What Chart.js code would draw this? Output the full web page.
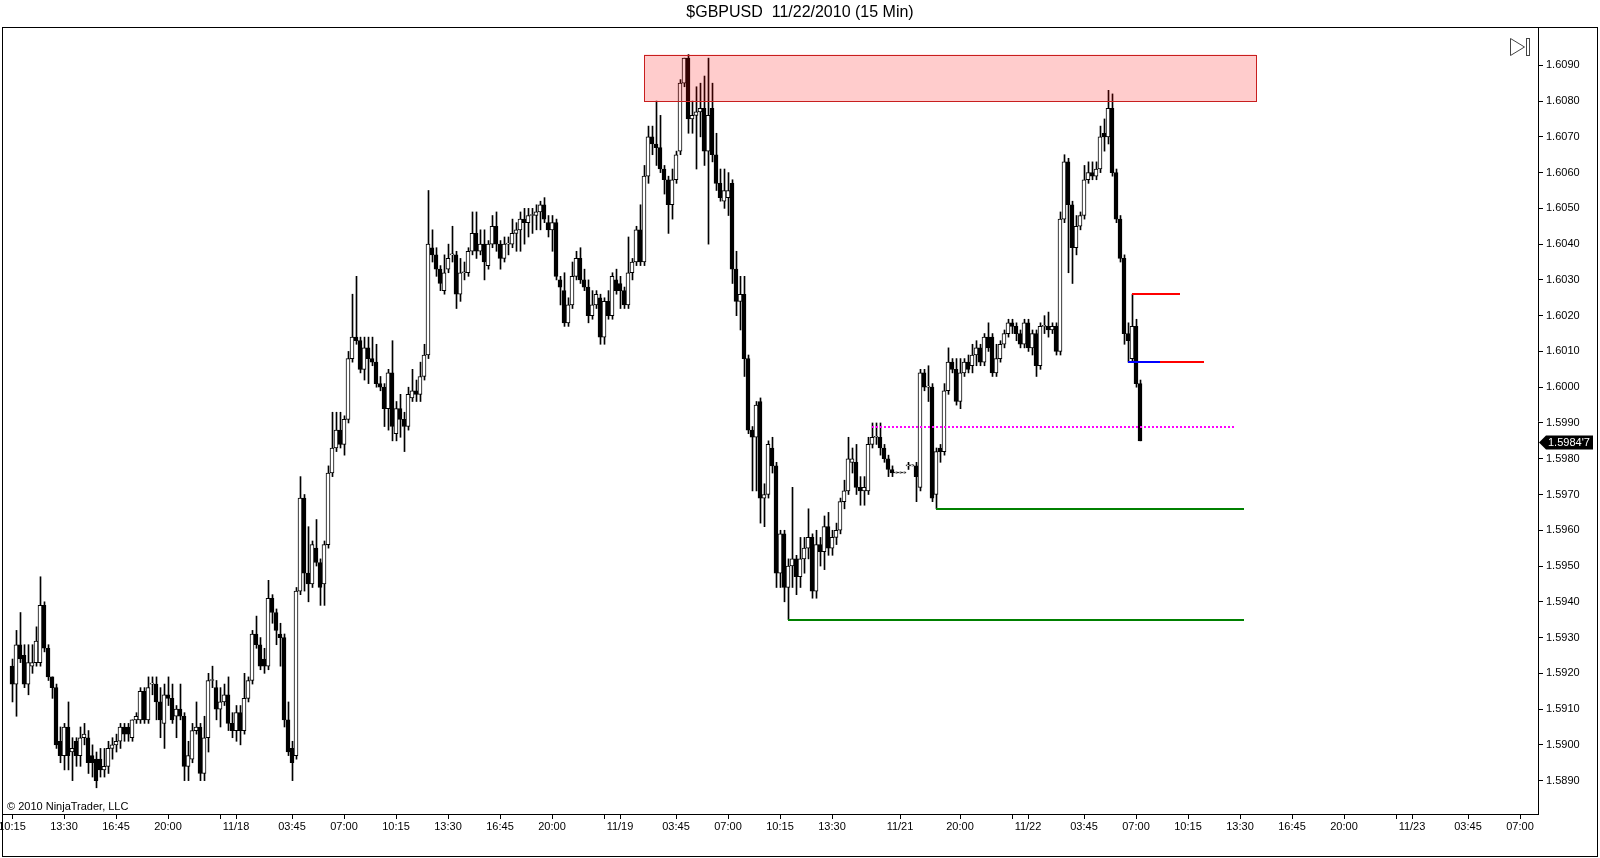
<!DOCTYPE html>
<html>
<head>
<meta charset="utf-8">
<title>$GBPUSD 11/22/2010 (15 Min)</title>
<script src="https://cdn.jsdelivr.net/npm/chart.js@4.4.0/dist/chart.umd.min.js"></script>
<style>
  html, body { margin: 0; padding: 0; background: #fff; }
  #myChartContainer { width: 1600px; height: 858px; }
</style>
</head>
<body>
<div id="myChartContainer"><canvas id="myChart" width="1600" height="858"></canvas></div>
<script>
// 15 min bars, index 0 = 11/17 10:15
var opens = [
1.5922,1.5917,1.5928,1.5925,1.5917,1.5922,1.5923,1.5923,1.5939,1.5927,
1.5919,1.5916,1.5901,1.5897,1.5905,1.5898,1.5901,1.5897,1.5902,1.5902,
1.5897,1.5896,1.5896,1.5893,1.5894,1.5899,1.5900,1.5901,1.5905,1.5905,
1.5902,1.5907,1.5907,1.5915,1.5907,1.5917,1.5917,1.5912,1.5906,1.5914,
1.5913,1.5908,1.5910,1.5908,1.5894,1.5896,1.5904,1.5905,1.5892,1.5902,
1.5918,1.5916,1.5910,1.5912,1.5914,1.5906,1.5904,1.5909,1.5904,1.5913,
1.5918,1.5931,1.5928,1.5924,1.5922,1.5941,1.5937,1.5931,1.5930,1.5907,
1.5899,1.5897,1.5943,1.5969,1.5948,1.5945,1.5955,1.5951,1.5945,1.5956,
1.5976,1.5983,1.5988,1.5984,1.5991,1.6008,1.6014,1.6013,1.6005,1.6011,
1.6008,1.6007,1.6001,1.6000,1.5994,1.6004,1.5987,1.5994,1.5991,1.5989,
1.5997,1.5999,1.5998,1.6003,1.6009,1.6039,1.6037,1.6033,1.6027,1.6033,
1.6037,1.6037,1.6026,1.6032,1.6032,1.6038,1.6043,1.6038,1.6040,1.6034,
1.6040,1.6045,1.6040,1.6036,1.6040,1.6040,1.6043,1.6044,1.6047,1.6046,
1.6048,1.6048,1.6049,1.6051,1.6046,1.6044,1.6046,1.6030,1.6027,1.6018,
1.6023,1.6031,1.6036,1.6030,1.6028,1.6020,1.6023,1.6025,1.6014,1.6024,
1.6020,1.6030,1.6029,1.6027,1.6023,1.6032,1.6035,1.6044,1.6035,1.6059,
1.6070,1.6068,1.6067,1.6061,1.6058,1.6051,1.6058,1.6066,1.6085,1.6092,
1.6075,1.6076,1.6077,1.6078,1.6066,1.6078,1.6065,1.6057,1.6052,1.6053,
1.6057,1.6033,1.6024,1.6026,1.6008,1.5988,1.5986,1.5996,1.5969,1.5970,
1.5983,1.5978,1.5948,1.5959,1.5944,1.5950,1.5952,1.5947,1.5952,1.5955,
1.5958,1.5943,1.5956,1.5954,1.5961,1.5955,1.5958,1.5960,1.5968,1.5971,
1.5979,1.5979,1.5972,1.5971,1.5971,1.5984,1.5986,1.5986,1.5983,1.5980,
1.5977,1.5976,1.5976,1.5976,1.5978,1.5978,1.5978,1.5972,1.6004,1.6000,
1.6000,1.5970,1.5983,1.5982,1.5999,1.6007,1.6005,1.5996,1.6004,1.6007,
1.6006,1.6009,1.6011,1.6007,1.6014,1.6014,1.6004,1.6008,1.6012,1.6015,
1.6018,1.6017,1.6015,1.6012,1.6018,1.6011,1.6015,1.6006,1.6017,1.6017,
1.6016,1.6017,1.6010,1.6047,1.6063,1.6051,1.6039,1.6045,1.6048,1.6058,
1.6060,1.6059,1.6061,1.6071,1.6070,1.6078,1.6060,1.6047,1.6036,1.6015,
1.6008,1.6017,1.6001
];
var highs = [
1.5924,1.5932,1.5937,1.5928,1.5928,1.5928,1.5933,1.5947,1.5940,1.5928,
1.5919,1.5917,1.5905,1.5906,1.5912,1.5902,1.5902,1.5905,1.5906,1.5904,
1.5900,1.5898,1.5899,1.5899,1.5901,1.5902,1.5903,1.5906,1.5906,1.5906,
1.5907,1.5909,1.5916,1.5916,1.5919,1.5919,1.5919,1.5916,1.5917,1.5919,
1.5917,1.5911,1.5917,1.5909,1.5901,1.5906,1.5912,1.5906,1.5908,1.5920,
1.5922,1.5918,1.5916,1.5917,1.5919,1.5909,1.5911,1.5911,1.5920,1.5919,
1.5932,1.5936,1.5930,1.5927,1.5946,1.5942,1.5938,1.5934,1.5931,1.5912,
1.5901,1.5944,1.5975,1.5970,1.5961,1.5957,1.5963,1.5952,1.5957,1.5978,
1.5993,1.5993,1.5993,1.5992,1.6010,1.6026,1.6031,1.6014,1.6014,1.6014,
1.6014,1.6012,1.6003,1.6001,1.6005,1.6013,1.5996,1.5998,1.5993,1.6000,
1.6005,1.6002,1.6007,1.6012,1.6055,1.6044,1.6039,1.6034,1.6037,1.6040,
1.6045,1.6038,1.6036,1.6035,1.6039,1.6049,1.6049,1.6044,1.6044,1.6041,
1.6048,1.6049,1.6041,1.6042,1.6042,1.6047,1.6046,1.6049,1.6050,1.6050,
1.6050,1.6051,1.6052,1.6053,1.6048,1.6048,1.6047,1.6031,1.6032,1.6025,
1.6035,1.6038,1.6039,1.6033,1.6030,1.6027,1.6027,1.6026,1.6025,1.6027,
1.6032,1.6033,1.6031,1.6028,1.6042,1.6036,1.6045,1.6051,1.6062,1.6073,
1.6073,1.6080,1.6076,1.6062,1.6059,1.6061,1.6066,1.6086,1.6092,1.6093,
1.6080,1.6084,1.6085,1.6087,1.6092,1.6085,1.6071,1.6061,1.6061,1.6060,
1.6058,1.6038,1.6031,1.6031,1.6009,1.5989,1.5996,1.5997,1.5973,1.5985,
1.5986,1.5979,1.5960,1.5960,1.5952,1.5972,1.5953,1.5958,1.5958,1.5966,
1.5959,1.5960,1.5958,1.5964,1.5965,1.5960,1.5962,1.5969,1.5974,1.5986,
1.5983,1.5984,1.5975,1.5975,1.5986,1.5990,1.5990,1.5990,1.5984,1.5981,
1.5978,1.5976,1.5976,1.5976,1.5979,1.5978,1.5979,1.6005,1.6005,1.6006,
1.6001,1.5983,1.5984,1.6001,1.6011,1.6008,1.6008,1.6008,1.6008,1.6009,
1.6012,1.6013,1.6012,1.6015,1.6018,1.6015,1.6012,1.6013,1.6016,1.6019,
1.6019,1.6018,1.6016,1.6019,1.6019,1.6016,1.6016,1.6018,1.6020,1.6021,
1.6018,1.6018,1.6049,1.6065,1.6064,1.6052,1.6048,1.6049,1.6062,1.6063,
1.6063,1.6063,1.6073,1.6075,1.6083,1.6082,1.6061,1.6048,1.6037,1.6018,
1.6026,1.6019,1.6002
];
var lows = [
1.5912,1.5908,1.5923,1.5916,1.5914,1.5920,1.5922,1.5922,1.5926,1.5918,
1.5913,1.5899,1.5895,1.5893,1.5893,1.5890,1.5894,1.5894,1.5900,1.5892,
1.5891,1.5888,1.5891,1.5891,1.5892,1.5896,1.5898,1.5899,1.5901,1.5901,
1.5901,1.5906,1.5906,1.5906,1.5906,1.5914,1.5907,1.5902,1.5899,1.5911,
1.5906,1.5902,1.5907,1.5890,1.5890,1.5895,1.5903,1.5890,1.5890,1.5898,
1.5916,1.5907,1.5905,1.5911,1.5904,1.5902,1.5901,1.5900,1.5903,1.5912,
1.5917,1.5927,1.5921,1.5920,1.5921,1.5934,1.5928,1.5922,1.5905,1.5897,
1.5890,1.5896,1.5942,1.5943,1.5940,1.5944,1.5950,1.5939,1.5939,1.5955,
1.5975,1.5982,1.5983,1.5981,1.5990,1.6007,1.6012,1.6004,1.6002,1.6001,
1.6006,1.6000,1.5999,1.5989,1.5988,1.5985,1.5985,1.5986,1.5982,1.5988,
1.5996,1.5996,1.5996,1.6002,1.6008,1.6035,1.6031,1.6027,1.6026,1.6032,
1.6035,1.6022,1.6024,1.6030,1.6031,1.6037,1.6036,1.6037,1.6030,1.6033,
1.6039,1.6038,1.6033,1.6035,1.6037,1.6039,1.6038,1.6038,1.6040,1.6042,
1.6043,1.6044,1.6044,1.6046,1.6042,1.6038,1.6030,1.6023,1.6017,1.6017,
1.6022,1.6030,1.6029,1.6027,1.6018,1.6019,1.6022,1.6012,1.6012,1.6019,
1.6019,1.6026,1.6022,1.6022,1.6022,1.6030,1.6034,1.6034,1.6034,1.6057,
1.6065,1.6062,1.6060,1.6054,1.6043,1.6047,1.6057,1.6065,1.6084,1.6071,
1.6071,1.6061,1.6070,1.6062,1.6040,1.6063,1.6055,1.6052,1.6050,1.6048,
1.6029,1.6020,1.6016,1.6003,1.5987,1.5971,1.5971,1.5962,1.5961,1.5969,
1.5976,1.5944,1.5944,1.5940,1.5935,1.5944,1.5942,1.5944,1.5948,1.5952,
1.5941,1.5941,1.5950,1.5949,1.5953,1.5953,1.5956,1.5959,1.5966,1.5970,
1.5976,1.5970,1.5967,1.5967,1.5970,1.5983,1.5984,1.5981,1.5979,1.5975,
1.5975,1.5976,1.5976,1.5976,1.5977,1.5978,1.5968,1.5971,1.5999,1.5996,
1.5968,1.5966,1.5979,1.5981,1.5998,1.6004,1.5995,1.5994,1.6003,1.6004,
1.6004,1.6006,1.6006,1.6006,1.6010,1.6003,1.6003,1.6007,1.6011,1.6014,
1.6015,1.6013,1.6011,1.6011,1.6010,1.6009,1.6003,1.6005,1.6015,1.6014,
1.6015,1.6009,1.6009,1.6046,1.6032,1.6029,1.6037,1.6044,1.6047,1.6057,
1.6058,1.6058,1.6060,1.6066,1.6068,1.6059,1.6046,1.6035,1.6012,1.6007,
1.6007,1.6000,1.5985
];
var closes = [
1.5917,1.5928,1.5924,1.5917,1.5923,1.5923,1.5929,1.5939,1.5927,1.5919,
1.5916,1.5900,1.5897,1.5905,1.5897,1.5899,1.5897,1.5902,1.5903,1.5895,
1.5895,1.5890,1.5893,1.5894,1.5899,1.5900,1.5901,1.5905,1.5903,1.5903,
1.5907,1.5908,1.5915,1.5907,1.5916,1.5917,1.5912,1.5907,1.5914,1.5913,
1.5907,1.5910,1.5908,1.5894,1.5897,1.5904,1.5905,1.5892,1.5902,1.5918,
1.5918,1.5910,1.5912,1.5914,1.5906,1.5904,1.5909,1.5904,1.5913,1.5918,
1.5931,1.5928,1.5922,1.5922,1.5941,1.5937,1.5932,1.5930,1.5907,1.5898,
1.5895,1.5943,1.5969,1.5948,1.5945,1.5956,1.5951,1.5944,1.5956,1.5976,
1.5983,1.5988,1.5984,1.5991,1.6008,1.6014,1.6013,1.6005,1.6011,1.6008,
1.6007,1.6001,1.6000,1.5994,1.6004,1.5989,1.5994,1.5991,1.5989,1.5998,
1.5999,1.5998,1.6003,1.6009,1.6040,1.6037,1.6033,1.6029,1.6032,1.6036,
1.6037,1.6026,1.6032,1.6032,1.6038,1.6043,1.6038,1.6040,1.6035,1.6040,
1.6045,1.6040,1.6036,1.6040,1.6040,1.6043,1.6044,1.6047,1.6046,1.6048,
1.6048,1.6049,1.6051,1.6047,1.6044,1.6046,1.6031,1.6028,1.6018,1.6023,
1.6031,1.6036,1.6030,1.6028,1.6020,1.6023,1.6026,1.6014,1.6024,1.6020,
1.6031,1.6027,1.6027,1.6023,1.6032,1.6035,1.6044,1.6035,1.6059,1.6070,
1.6068,1.6067,1.6061,1.6058,1.6051,1.6058,1.6065,1.6085,1.6092,1.6075,
1.6076,1.6077,1.6078,1.6066,1.6076,1.6065,1.6057,1.6053,1.6055,1.6055,
1.6033,1.6024,1.6026,1.6008,1.5988,1.5986,1.5995,1.5969,1.5970,1.5984,
1.5978,1.5948,1.5959,1.5944,1.5950,1.5952,1.5947,1.5952,1.5955,1.5958,
1.5943,1.5956,1.5954,1.5961,1.5955,1.5958,1.5960,1.5968,1.5971,1.5980,
1.5980,1.5972,1.5971,1.5972,1.5984,1.5986,1.5986,1.5983,1.5980,1.5977,
1.5976,1.5976,1.5976,1.5976,1.5978,1.5978,1.5975,1.6004,1.6000,1.6000,
1.5969,1.5982,1.5982,1.5999,1.6007,1.6005,1.5996,1.6004,1.6007,1.6005,
1.6009,1.6011,1.6007,1.6014,1.6011,1.6004,1.6008,1.6012,1.6015,1.6018,
1.6017,1.6015,1.6012,1.6018,1.6011,1.6015,1.6006,1.6017,1.6017,1.6016,
1.6017,1.6010,1.6047,1.6063,1.6051,1.6039,1.6045,1.6048,1.6058,1.6060,
1.6059,1.6061,1.6070,1.6070,1.6078,1.6060,1.6047,1.6036,1.6015,1.6013,
1.6017,1.6001,1.5985
];
var lastPrice = 1.59847;
var lastPriceText = "1.5984'7";

// time axis: bar index of each tick and its label ('' = tick only)
var tickPos  = [0, 13, 26, 39, 52, 56, 70, 83, 96, 109, 122, 135, 148, 152, 166, 179, 192, 205, 222, 237, 250, 254, 268, 281, 294, 307, 320, 333, 346, 350, 364, 377];
var tickText = ['10:15','13:30','16:45','20:00','','11/18','03:45','07:00','10:15','13:30','16:45','20:00','','11/19','03:45','07:00','10:15','13:30','11/21','20:00','','11/22','03:45','07:00','10:15','13:30','16:45','20:00','','11/23','03:45','07:00'];
var priceTicks = [1.5890,1.5900,1.5910,1.5920,1.5930,1.5940,1.5950,1.5960,1.5970,1.5980,1.5990,1.6000,1.6010,1.6020,1.6030,1.6040,1.6050,1.6060,1.6070,1.6080,1.6090];

// drawn objects
var zoneBars = [158, 311];
var zonePrices = [1.6080, 1.6093];
var levelPrice = [1.5989, 1.5966, 1.5935, 1.6026, 1.6007, 1.6007];
var levelFrom  = [215, 231, 194, 280, 279, 287];
var levelTo    = [306, 308, 308, 292, 287, 298];
var levelColor = ['#ff00ff', '#008000', '#008000', '#ff0000', '#0000ff', '#ff0000'];
var levelDash  = [[2, 2], [], [], [], [], []];

document.addEventListener('DOMContentLoaded', function(){
    var FONT = '"Liberation Sans", Arial, sans-serif';
    Chart.defaults.font.family = FONT;
    Chart.defaults.font.size = 11;
    Chart.defaults.color = '#000';

    var xMin = -2.25, xMax = 381.5;

    var bodies = [], wicks = [], bodyFill = [];
    for (var i = 0; i < closes.length; i++) {
        var o = opens[i], c = closes[i];
        bodies.push({x: i, y: [Math.min(o, c), Math.max(o, c)]});
        wicks.push({x: i, y: [Math.min(lows[i], o, c), Math.max(highs[i], o, c)]});
        bodyFill.push(c < o ? '#000' : '#fff');
    }

    var overlay = {
        id: 'overlay',
        afterDatasetsDraw: function(chart){
            var ctx = chart.ctx, a = chart.chartArea;
            var x = chart.scales.x, y = chart.scales.y;
            ctx.save();
            ctx.beginPath();
            ctx.rect(a.left, a.top, a.right - a.left, a.bottom - a.top);
            ctx.clip();

            var zx0 = x.getPixelForValue(zoneBars[0]), zx1 = x.getPixelForValue(zoneBars[1]);
            var zy0 = y.getPixelForValue(zonePrices[1]), zy1 = y.getPixelForValue(zonePrices[0]);
            ctx.fillStyle = 'rgba(255,0,0,0.2)';
            ctx.fillRect(zx0, zy0, zx1 - zx0, zy1 - zy0);
            ctx.strokeStyle = '#c81e1e';
            ctx.lineWidth = 1;
            ctx.strokeRect(Math.round(zx0) + 0.5, Math.round(zy0) + 0.5, Math.round(zx1 - zx0), Math.round(zy1 - zy0));

            for (var k = 0; k < levelPrice.length; k++) {
                var ly = Math.round(y.getPixelForValue(levelPrice[k]));
                ctx.beginPath();
                ctx.setLineDash(levelDash[k]);
                ctx.strokeStyle = levelColor[k];
                ctx.lineWidth = 2;
                ctx.moveTo(x.getPixelForValue(levelFrom[k]), ly);
                ctx.lineTo(x.getPixelForValue(levelTo[k]), ly);
                ctx.stroke();
            }
            ctx.restore();
        },
        afterDraw: function(chart){
            var ctx = chart.ctx, a = chart.chartArea, y = chart.scales.y;
            ctx.save();
            // frame
            ctx.strokeStyle = '#000';
            ctx.lineWidth = 1;
            ctx.strokeRect(2.5, 27.5, 1595, 829);

            // title
            ctx.fillStyle = '#000';
            ctx.font = '16px ' + FONT;
            ctx.textAlign = 'center';
            ctx.textBaseline = 'middle';
            ctx.fillText('$GBPUSD  11/22/2010 (15 Min)', 800, 13);

            // copyright
            ctx.font = '11px ' + FONT;
            ctx.textAlign = 'left';
            ctx.fillText('\u00a9 2010 NinjaTrader, LLC', 7, 807);

            // last price tag
            var py = Math.round(y.getPixelForValue(lastPrice)) + 0.5;
            ctx.beginPath();
            ctx.moveTo(a.right + 1, py);
            ctx.lineTo(a.right + 8, py - 7);
            ctx.lineTo(a.right + 55, py - 7);
            ctx.lineTo(a.right + 55, py + 7);
            ctx.lineTo(a.right + 8, py + 7);
            ctx.closePath();
            ctx.fillStyle = '#000';
            ctx.fill();
            ctx.fillStyle = '#fff';
            ctx.fillText(lastPriceText, a.right + 10, py + 0.5);

            // scroll-to-end icon
            ctx.strokeStyle = '#444';
            ctx.beginPath();
            ctx.moveTo(1510.5, 38.5);
            ctx.lineTo(1524.5, 47);
            ctx.lineTo(1510.5, 55.5);
            ctx.closePath();
            ctx.stroke();
            ctx.strokeRect(1526.5, 38.5, 3, 17);
            ctx.restore();
        }
    };

    var ctx = document.getElementById('myChart').getContext('2d');
    var myChart = new Chart(ctx, {
        type: 'bar',
        data: {
            datasets: [{
                label: 'body',
                data: bodies,
                backgroundColor: bodyFill,
                borderColor: '#000',
                borderWidth: 1,
                borderSkipped: false,
                grouped: false,
                barPercentage: 1,
                categoryPercentage: 1,
                maxBarThickness: 4,
                minBarLength: 1,
                order: 0
            }, {
                label: 'wick',
                data: wicks,
                xAxisID: 'xw',
                backgroundColor: '#000',
                borderWidth: 0,
                grouped: false,
                barPercentage: 1,
                categoryPercentage: 1,
                maxBarThickness: 1,
                minBarLength: 1,
                order: 1
            }]
        },
        options: {
            responsive: false,
            animation: false,
            devicePixelRatio: 1,
            events: [],
            layout: { padding: { top: 28, left: 3, right: 0, bottom: 0 } },
            plugins: { legend: { display: false }, tooltip: { enabled: false } },
            scales: {
                x: {
                    type: 'linear',
                    min: xMin,
                    max: xMax,
                    offset: false,
                    grid: { display: true, drawOnChartArea: false, drawTicks: true, tickLength: 5, color: '#000', offset: false },
                    border: { display: true, color: '#000' },
                    ticks: {
                        autoSkip: false,
                        maxRotation: 0,
                        minRotation: 0,
                        padding: 1,
                        color: '#000',
                        font: { size: 11 },
                        callback: function(v){
                            var k = tickPos.indexOf(v);
                            return k < 0 ? '' : tickText[k];
                        }
                    },
                    afterBuildTicks: function(s){
                        s.ticks = tickPos.map(function(v){ return {value: v}; });
                    },
                    afterFit: function(s){
                        s.height = 44;
                        s.paddingLeft = 0;
                        s.paddingRight = 0;
                    }
                },
                xw: {
                    type: 'linear',
                    display: false,
                    min: xMin - 0.125,
                    max: xMax - 0.125,
                    offset: false
                },
                y: {
                    type: 'linear',
                    position: 'right',
                    min: 1.588067,
                    max: 1.610043,
                    grid: { display: true, drawOnChartArea: false, drawTicks: true, tickLength: 5, color: '#000' },
                    border: { display: true, color: '#000' },
                    ticks: {
                        padding: 3,
                        color: '#000',
                        font: { size: 11 },
                        callback: function(v){ return v.toFixed(4); }
                    },
                    afterBuildTicks: function(s){
                        s.ticks = priceTicks.map(function(v){ return {value: v}; });
                    },
                    afterFit: function(s){
                        s.width = 62;
                        s.paddingTop = 0;
                        s.paddingBottom = 0;
                    }
                }
            }
        },
        plugins: [overlay]
    });
    document.getElementById('myChartContainer').appendChild(myChart.canvas);
});
</script>
</body>
</html>
